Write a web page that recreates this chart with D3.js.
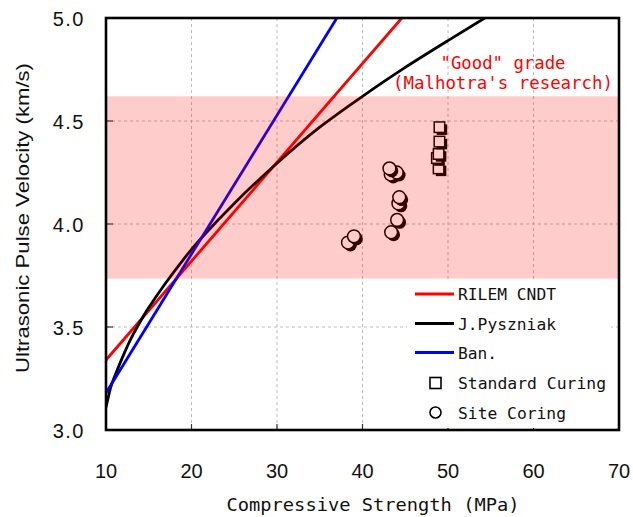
<!DOCTYPE html>
<html><head><meta charset="utf-8">
<script src="https://cdn.jsdelivr.net/npm/d3@7"></script>
<style>body{margin:0;background:#fff}</style>
</head><body><svg id="c" width="633" height="517"></svg>
<script>
// ---- data ----
const xTicks = [10, 20, 30, 40, 50, 60, 70];
const yTicks = [3.0, 3.5, 4.0, 4.5, 5.0];
const rilemX = [10, 44.6];
const rilemY = [3.34, 5.0];
const banX = [10, 37.0];
const banY = [3.18, 5.0];
const pyszX = [10, 10.5, 11, 12, 13, 14.2, 15, 17, 19, 21, 25, 30, 35, 40, 45, 50, 54.3];
const pyszY = [3.11, 3.20, 3.26, 3.36, 3.45, 3.54, 3.595, 3.715, 3.825, 3.925, 4.10, 4.295, 4.47, 4.62, 4.76, 4.89, 5.0];
const stdX = [48.9, 48.7, 48.9, 49.0, 49.0];
const stdY = [4.27, 4.32, 4.34, 4.40, 4.47];
const siteX = [38.3, 39.0, 43.35, 44.05, 44.2, 44.3, 43.3, 44.0, 43.15];
const siteY = [3.91, 3.94, 3.96, 4.02, 4.10, 4.13, 4.24, 4.25, 4.27];
const goodBand = [3.735, 4.62];
const annotation = ['"Good" grade', "(Malhotra's research)"];
const legendLabels = ["RILEM CNDT", "J.Pyszniak", "Ban.", "Standard Curing", "Site Coring"];
const xTitle = "Compressive Strength (MPa)";
const yTitle = "Ultrasonic Pulse Velocity (km/s)";

// ---- layout ----
const L = 106, R = 619, T = 18, B = 430;
const svg = d3.select("#c");
const x = d3.scaleLinear().domain([10, 70]).range([L, R]);
const y = d3.scaleLinear().domain([3, 5]).range([B, T]);
const mono = "'DejaVu Sans Mono', 'Liberation Mono', monospace";
const sans = "'Liberation Sans', Arial, sans-serif";

svg.append("defs").append("clipPath").attr("id", "clip")
  .append("rect").attr("x", L).attr("y", T).attr("width", R - L).attr("height", B - T);

// grid
const grid = svg.append("g").attr("stroke", "#bdbdbd").attr("stroke-width", 1).attr("stroke-dasharray", "3,3");
xTicks.slice(1, -1).forEach(v => grid.append("line").attr("x1", x(v)).attr("x2", x(v)).attr("y1", T).attr("y2", B));
yTicks.slice(1, -1).forEach(v => grid.append("line").attr("x1", L).attr("x2", R).attr("y1", y(v)).attr("y2", y(v)));

// inner ticks
const tk = svg.append("g").attr("stroke", "#333").attr("stroke-width", 1.2);
xTicks.slice(1, -1).forEach(v => tk.append("line").attr("x1", x(v)).attr("x2", x(v)).attr("y1", B).attr("y2", B - 6));
yTicks.slice(1, -1).forEach(v => tk.append("line").attr("x1", L).attr("x2", L + 7).attr("y1", y(v)).attr("y2", y(v)));

// curves
const lineG = svg.append("g").attr("clip-path", "url(#clip)").attr("fill", "none").attr("stroke-width", 2.8);
const mk = (xs, ys) => xs.map((d, i) => [d, ys[i]]);
const straight = d3.line().x(d => x(d[0])).y(d => y(d[1]));
const smooth = d3.line().x(d => x(d[0])).y(d => y(d[1])).curve(d3.curveNatural);
lineG.append("path").attr("d", straight(mk(rilemX, rilemY))).attr("stroke", "#ff0000");
lineG.append("path").attr("d", smooth(mk(pyszX, pyszY))).attr("stroke", "#000");
lineG.append("path").attr("d", straight(mk(banX, banY))).attr("stroke", "#0000ff");

// markers with shadow
const mG = svg.append("g");
const sq = 10.5, rc = 6.4, off = 2.5;
mk(stdX, stdY).forEach(d => {
  mG.append("rect").attr("x", x(d[0]) - sq / 2 + off).attr("y", y(d[1]) - sq / 2 + off).attr("width", sq).attr("height", sq).attr("fill", "#000");
  mG.append("rect").attr("x", x(d[0]) - sq / 2).attr("y", y(d[1]) - sq / 2).attr("width", sq).attr("height", sq)
    .attr("fill", "#fff").attr("stroke", "#000").attr("stroke-width", 1.5);
});
mk(siteX, siteY).forEach(d => {
  mG.append("circle").attr("cx", x(d[0]) + off).attr("cy", y(d[1]) + off).attr("r", rc).attr("fill", "#000");
  mG.append("circle").attr("cx", x(d[0])).attr("cy", y(d[1])).attr("r", rc)
    .attr("fill", "#fff").attr("stroke", "#000").attr("stroke-width", 1.5);
});

// "Good" band overlay (semi transparent)
svg.append("rect").attr("x", L).attr("y", y(goodBand[1])).attr("width", R - L)
  .attr("height", y(goodBand[0]) - y(goodBand[1])).attr("fill", "rgba(255,0,0,0.2)");

// annotation
annotation.forEach((t, i) => svg.append("text").attr("x", 503).attr("y", 69 + i * 20)
  .attr("text-anchor", "middle").attr("fill", "#ff0000").attr("font-family", mono).attr("font-size", 17)
  .attr("textLength", i === 0 ? 125 : 220).attr("lengthAdjust", "spacingAndGlyphs").text(t));

// legend
const leg = svg.append("g");
leg.append("rect").attr("x", 407).attr("y", 282).attr("width", 204).attr("height", 146).attr("fill", "#fff");
const legColors = ["#ff0000", "#000", "#0000ff"];
const legY = [294, 323.5, 352.5, 383, 412.5];
const legLen = [98, 98, 39, 148, 108];
legColors.forEach((c, i) => leg.append("line").attr("x1", 415).attr("x2", 454).attr("y1", legY[i]).attr("y2", legY[i])
  .attr("stroke", c).attr("stroke-width", 2.8));
leg.append("rect").attr("x", 430).attr("y", legY[3] - 5.5).attr("width", 11).attr("height", 11)
  .attr("fill", "#fff").attr("stroke", "#000").attr("stroke-width", 1.6);
leg.append("circle").attr("cx", 435.5).attr("cy", legY[4]).attr("r", 5.5)
  .attr("fill", "#fff").attr("stroke", "#000").attr("stroke-width", 1.6);
legendLabels.forEach((t, i) => leg.append("text").attr("x", 458).attr("y", legY[i] + 6)
  .attr("font-family", mono).attr("font-size", 16.5).attr("fill", "#111")
  .attr("textLength", legLen[i]).attr("lengthAdjust", "spacingAndGlyphs").text(t));

// frame
svg.append("rect").attr("x", L).attr("y", T).attr("width", R - L).attr("height", B - T)
  .attr("fill", "none").attr("stroke", "#000").attr("stroke-width", 2.6);

// tick labels
xTicks.forEach(v => svg.append("text").attr("x", x(v)).attr("y", 478).attr("text-anchor", "middle")
  .attr("font-family", sans).attr("font-size", 20).attr("fill", "#111").text(v));
yTicks.forEach(v => svg.append("text").attr("x", 85).attr("y", y(v) + 7.5).attr("text-anchor", "end")
  .attr("font-family", sans).attr("font-size", 20).attr("letter-spacing", 1.5).attr("fill", "#111").text(v.toFixed(1)));

// axis titles
svg.append("text").attr("x", 373).attr("y", 511).attr("text-anchor", "middle")
  .attr("font-family", mono).attr("font-size", 18).attr("fill", "#111")
  .attr("textLength", 293).attr("lengthAdjust", "spacingAndGlyphs").text(xTitle);
svg.append("text").attr("transform", "translate(29,218) rotate(-90)").attr("text-anchor", "middle")
  .attr("font-family", sans).attr("font-size", 19).attr("fill", "#111")
  .attr("textLength", 310).attr("lengthAdjust", "spacingAndGlyphs").text(yTitle);
</script></body></html>
